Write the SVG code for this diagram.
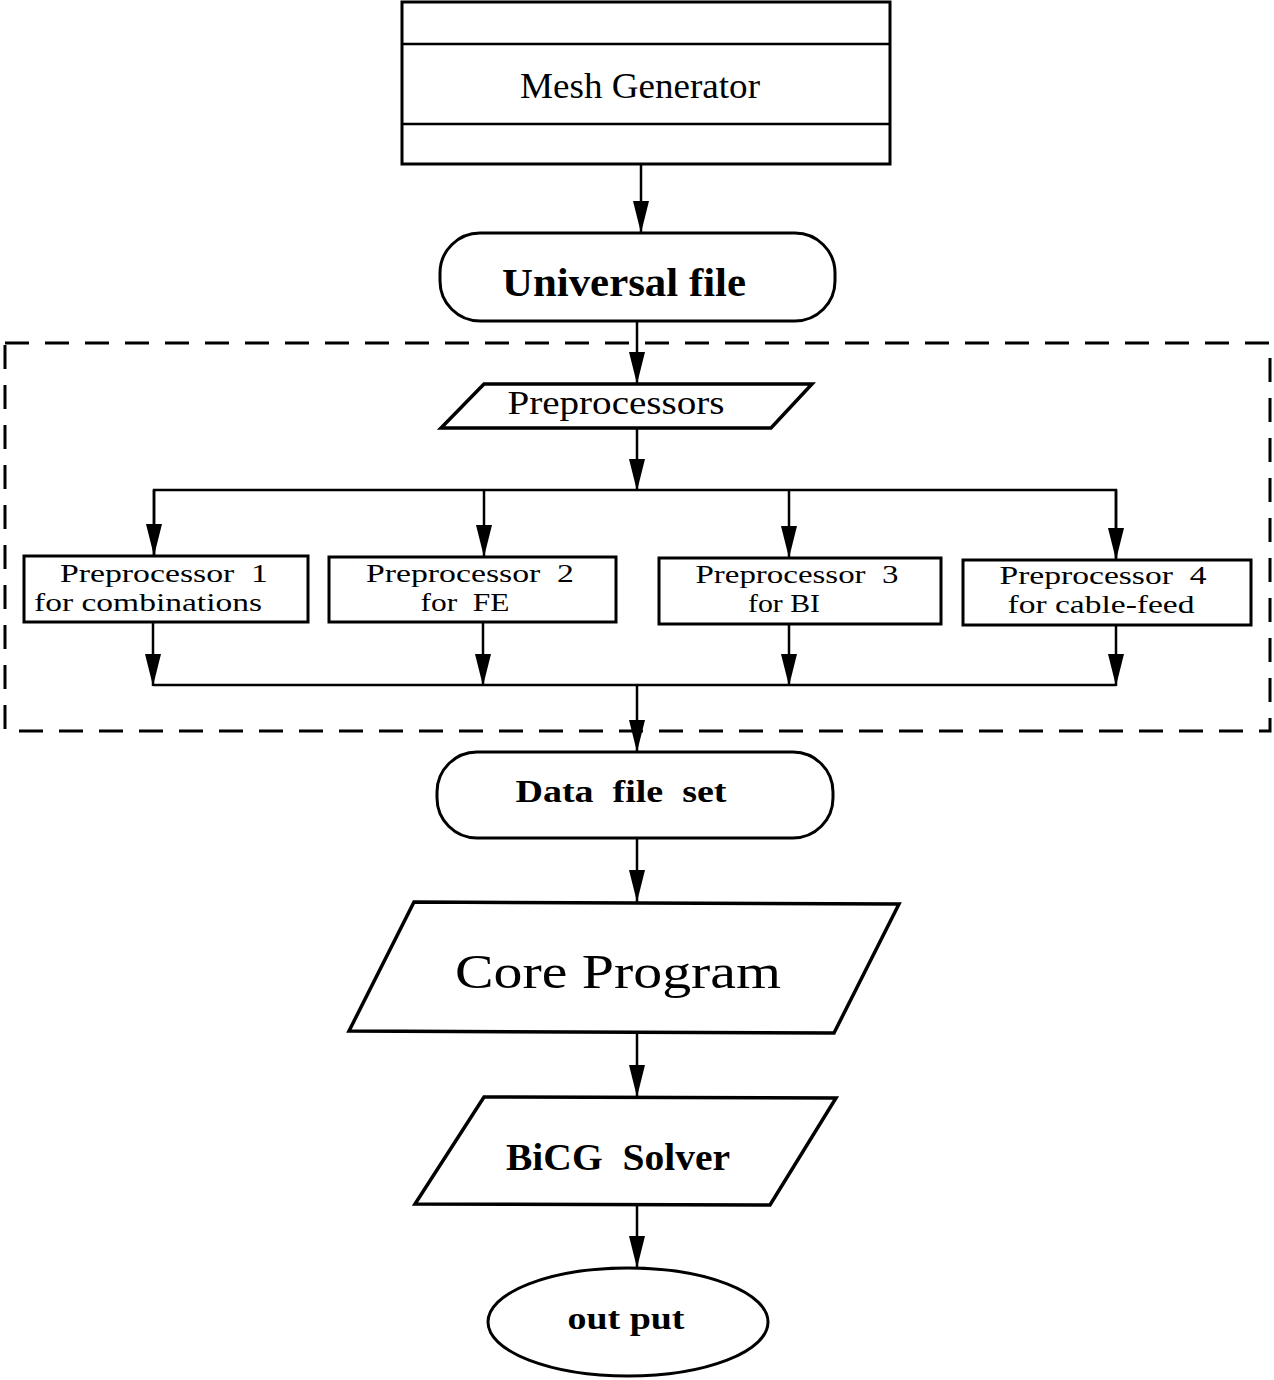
<svg xmlns="http://www.w3.org/2000/svg" width="1274" height="1380" viewBox="0 0 1274 1380">
<style>
.box{fill:#fff;stroke:#000;stroke-width:3}
.pg{fill:#fff;stroke:#000;stroke-width:3.5;stroke-linejoin:miter}
.ln{fill:none;stroke:#000;stroke-width:2.5}
.t{font-family:"Liberation Serif","Times New Roman",serif;fill:#000;text-anchor:middle;white-space:pre}
.b{font-weight:bold}
.s{font-size:25px}
</style>
<defs>
<marker id="ah" markerUnits="userSpaceOnUse" markerWidth="32" markerHeight="18" viewBox="0 0 32 18" refX="32" refY="9" orient="auto">
<path d="M0,1 L32,9 L0,17 z" fill="#000"/>
</marker>
</defs>
<rect width="1274" height="1380" fill="#fff"/>
<rect id="dashed-frame" x="5" y="343" width="1265" height="388" fill="none" stroke="#000" stroke-width="3" stroke-dasharray="24 16"/>
<g id="connectors">
<line class="ln" x1="641" y1="165" x2="641" y2="233" marker-end="url(#ah)"/>
<line class="ln" x1="637" y1="321" x2="637" y2="384" marker-end="url(#ah)"/>
<line class="ln" x1="637" y1="428" x2="637" y2="491" marker-end="url(#ah)"/>
<polyline class="ln" points="154,556 154,490 1116,490 1116,558"/>
<line class="ln" x1="154" y1="490" x2="154" y2="556" marker-end="url(#ah)"/>
<line class="ln" x1="484" y1="490" x2="484" y2="557" marker-end="url(#ah)"/>
<line class="ln" x1="789" y1="490" x2="789" y2="558" marker-end="url(#ah)"/>
<line class="ln" x1="1116" y1="490" x2="1116" y2="560" marker-end="url(#ah)"/>
<line class="ln" x1="153" y1="685" x2="1116" y2="685"/>
<line class="ln" x1="153" y1="622" x2="153" y2="686" marker-end="url(#ah)"/>
<line class="ln" x1="483" y1="622" x2="483" y2="686" marker-end="url(#ah)"/>
<line class="ln" x1="789" y1="624" x2="789" y2="686" marker-end="url(#ah)"/>
<line class="ln" x1="1116" y1="625" x2="1116" y2="686" marker-end="url(#ah)"/>
<line class="ln" x1="637" y1="685" x2="637" y2="752" marker-end="url(#ah)"/>
<line class="ln" x1="637" y1="838" x2="637" y2="902" marker-end="url(#ah)"/>
<line class="ln" x1="637" y1="1033" x2="637" y2="1097" marker-end="url(#ah)"/>
<line class="ln" x1="637" y1="1205" x2="637" y2="1268" marker-end="url(#ah)"/>
</g>
<g id="mesh-generator">
<rect class="box" x="402" y="2" width="488" height="162"/>
<line class="ln" x1="402" y1="44" x2="890" y2="44"/>
<line class="ln" x1="402" y1="124" x2="890" y2="124"/>
<text class="t" x="640" y="98" font-size="36" textLength="240" lengthAdjust="spacingAndGlyphs">Mesh Generator</text>
</g>
<g id="universal-file">
<rect class="box" x="440" y="233" width="395" height="88" rx="40" ry="40"/>
<text class="t b" x="624" y="296" font-size="40" textLength="244" lengthAdjust="spacingAndGlyphs">Universal file</text>
</g>
<g id="preprocessors">
<polygon class="pg" points="484,384 812,384 771,428 441,428"/>
<text class="t" x="616" y="414" font-size="34" textLength="217" lengthAdjust="spacingAndGlyphs">Preprocessors</text>
</g>
<g id="preprocessor-1">
<rect class="box" x="24" y="556" width="284" height="66"/>
<text class="t s" x="164" y="582" textLength="208" lengthAdjust="spacingAndGlyphs">Preprocessor  1</text>
<text class="t s" x="148" y="611" textLength="228" lengthAdjust="spacingAndGlyphs">for combinations</text>
</g>
<g id="preprocessor-2">
<rect class="box" x="329" y="557" width="287" height="65"/>
<text class="t s" x="470" y="582" textLength="208" lengthAdjust="spacingAndGlyphs">Preprocessor  2</text>
<text class="t s" x="465" y="611" textLength="89" lengthAdjust="spacingAndGlyphs">for  FE</text>
</g>
<g id="preprocessor-3">
<rect class="box" x="659" y="558" width="282" height="66"/>
<text class="t s" x="797" y="583" textLength="203" lengthAdjust="spacingAndGlyphs">Preprocessor  3</text>
<text class="t s" x="784" y="612" textLength="72" lengthAdjust="spacingAndGlyphs">for BI</text>
</g>
<g id="preprocessor-4">
<rect class="box" x="963" y="560" width="288" height="65"/>
<text class="t s" x="1103" y="584" textLength="207" lengthAdjust="spacingAndGlyphs">Preprocessor  4</text>
<text class="t s" x="1101" y="613" textLength="187" lengthAdjust="spacingAndGlyphs">for cable-feed</text>
</g>
<g id="data-file-set">
<rect class="box" x="437" y="752" width="396" height="86" rx="40" ry="40"/>
<text class="t b" x="621" y="802" font-size="32" textLength="211" lengthAdjust="spacingAndGlyphs">Data  file  set</text>
</g>
<g id="core-program">
<polygon class="pg" points="414,902 899,904 834,1033 349,1031"/>
<text class="t" x="618" y="988" font-size="48" textLength="326" lengthAdjust="spacingAndGlyphs">Core Program</text>
</g>
<g id="bicg-solver">
<polygon class="pg" points="484,1097 836,1098 770,1205 415,1204"/>
<text class="t b" x="618" y="1170" font-size="38" textLength="224" lengthAdjust="spacingAndGlyphs">BiCG  Solver</text>
</g>
<g id="output">
<ellipse class="box" cx="628" cy="1322" rx="140" ry="54"/>
<text class="t b" x="626" y="1329" font-size="32" textLength="117" lengthAdjust="spacingAndGlyphs">out put</text>
</g>
</svg>
